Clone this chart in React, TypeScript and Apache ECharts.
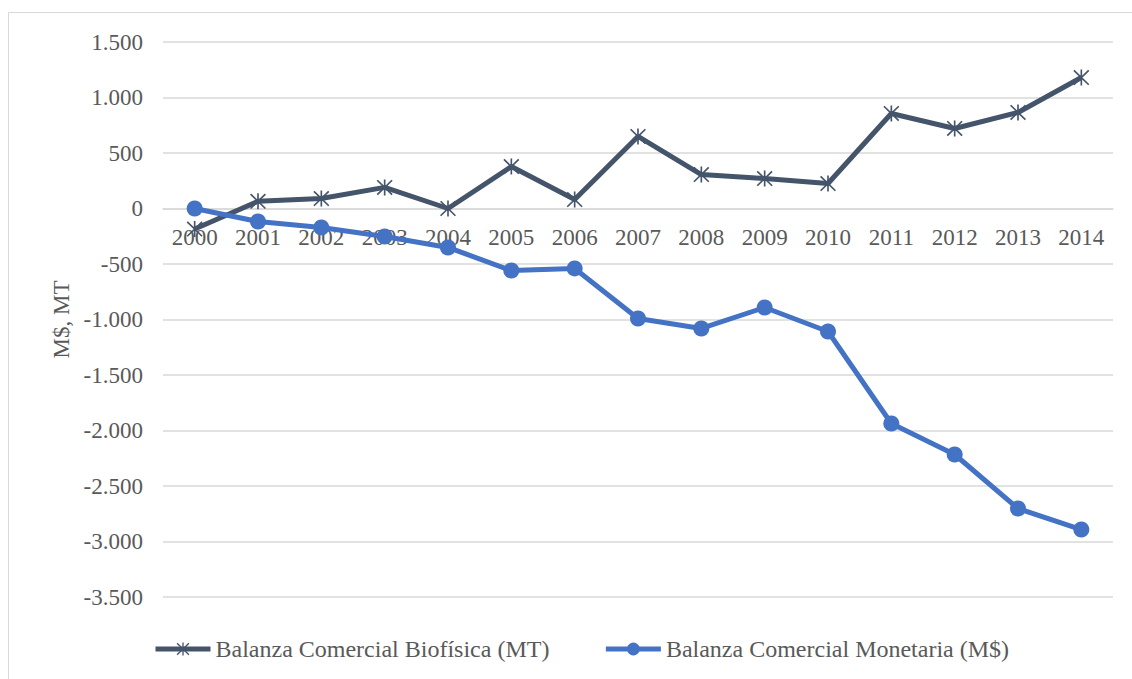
import React, { useEffect, useRef } from "react";
import * as echarts from "echarts";

const years = ["2000","2001","2002","2003","2004","2005","2006","2007","2008","2009","2010","2011","2012","2013","2014"];
const biofisica = [-185, 65, 90, 190, 0, 378, 81, 649, 306, 270, 225, 856, 721, 865, 1180];
const monetaria = [0, -117, -171, -252, -351, -559, -540, -991, -1081, -892, -1108, -1937, -2216, -2703, -2892];
const seriesNames = ["Balanza Comercial Biofísica (MT)", "Balanza Comercial Monetaria (M$)"];
const yTitle = "M$, MT";
const yMin = -3500;
const yMax = 1500;

const STAR = "path://M9,0 L11,0 L11,20 L9,20 Z M1.71,0.29 L19.71,18.29 L18.29,19.71 L0.29,1.71 Z M18.29,0.29 L19.71,1.71 L1.71,19.71 L0.29,18.29 Z";

function fmt(v: number): string {
  const s = Math.abs(v).toString();
  const withDots = s.replace(/\B(?=(\d{3})+(?!\d))/g, ".");
  return (v < 0 ? "-" : "") + withDots;
}

const GRID_TOP = 42;
const GRID_BOTTOM = 82;
const H = 679;

export default function App() {
  const ref = useRef<HTMLDivElement>(null);
  useEffect(() => {
    if (!ref.current) return;
    const chart = echarts.init(ref.current, null, { renderer: "svg" });
    const font = "'Liberation Serif', 'Times New Roman', serif";
    const plotH = H - GRID_TOP - GRID_BOTTOM;
    const zeroOffset = (plotH * (0 - yMin)) / (yMax - yMin);
    chart.setOption({
      animation: false,
      backgroundColor: "#ffffff",
      textStyle: { fontFamily: font },
      graphic: [
        {
          type: "rect",
          shape: { x: 8.5, y: 12.5, width: 1130, height: 700 },
          style: { fill: "none", stroke: "#d9d9d9", lineWidth: 1 },
          silent: true,
        },
      ],
      grid: { left: 163, right: 19, top: GRID_TOP, bottom: GRID_BOTTOM, containLabel: false },
      legend: {
        left: 153,
        top: 637,
        padding: 0,
        itemWidth: 55,
        itemHeight: 16,
        itemGap: 54,
        lineStyle: { width: 5 },
        textStyle: { fontFamily: font, fontSize: 24, color: "#595959" },
        data: seriesNames,
      },
      xAxis: {
        type: "category",
        data: years,
        boundaryGap: true,
        offset: -zeroOffset,
        axisLine: { show: true, onZero: false, lineStyle: { color: "#d9d9d9", width: 1.5 } },
        axisTick: { show: false },
        axisLabel: { fontFamily: font, fontSize: 23, color: "#595959", margin: 17 },
        splitLine: { show: false },
      },
      yAxis: {
        type: "value",
        min: yMin,
        max: yMax,
        interval: 500,
        name: yTitle,
        nameLocation: "middle",
        nameRotate: 90,
        nameGap: 86,
        nameTextStyle: { fontFamily: font, fontSize: 23, color: "#595959" },
        axisLine: { show: false },
        axisTick: { show: false },
        axisLabel: { fontFamily: font, fontSize: 23, color: "#595959", margin: 20, formatter: (v: number) => fmt(v) },
        splitLine: { lineStyle: { color: "#d9d9d9", width: 1.5 } },
      },
      series: [
        {
          name: seriesNames[0],
          type: "line",
          data: biofisica,
          symbol: STAR,
          symbolSize: 16,
          showAllSymbol: true,
          lineStyle: { color: "#44546a", width: 5 },
          itemStyle: { color: "#44546a" },
          z: 2,
        },
        {
          name: seriesNames[1],
          type: "line",
          data: monetaria,
          symbol: "circle",
          symbolSize: 16,
          showAllSymbol: true,
          lineStyle: { color: "#4472c4", width: 5 },
          itemStyle: { color: "#4472c4" },
          z: 3,
        },
      ],
    });
    return () => chart.dispose();
  }, []);
  return (
    <div
      ref={ref}
      style={{ position: "fixed", left: 0, top: 0, width: 1132, height: H, background: "#fff" }}
    />
  );
}
